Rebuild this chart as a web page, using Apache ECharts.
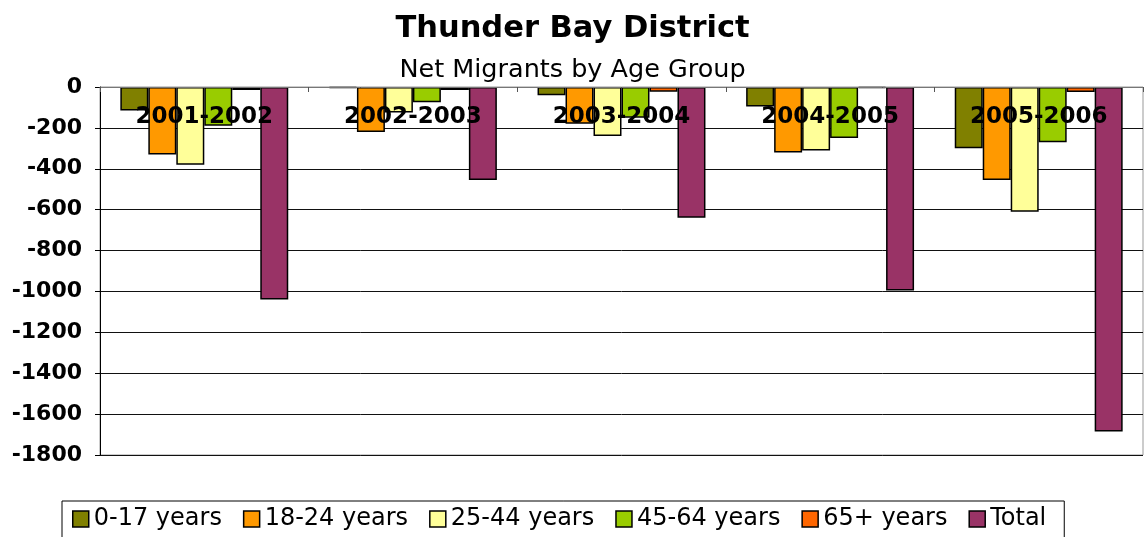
<!DOCTYPE html>
<html>
<head>
<meta charset="utf-8">
<title>Thunder Bay District</title>
<script src="https://cdn.jsdelivr.net/npm/echarts@6/dist/echarts.min.js"></script>
<style>
    html, body { margin: 0; padding: 0; background: #fff; }
    #chart { width: 1145px; height: 537px; }
</style>
</head>
<body>
<div id="chart"></div>
<script>
// years (categories)
var categories = ['2001-2002', '2002-2003', '2003-2004', '2004-2005', '2005-2006'];
// net migrants per age group
var age0to17 = [-115, -5, -40, -95, -300];
var age18to24 = [-330, -220, -180, -320, -455];
var age25to44 = [-380, -125, -240, -310, -610];
var age45to64 = [-190, -75, -150, -250, -270];
var age65plus = [-15, -15, -23, -5, -25];
var total = [-1040, -455, -640, -995, -1685];
// y axis ticks
var yTicks = [0, -200, -400, -600, -800, -1000, -1200, -1400, -1600, -1800];

var seriesNames = ['0-17 years', '18-24 years', '25-44 years', '45-64 years', '65+ years', 'Total'];
var seriesData = [age0to17, age18to24, age25to44, age45to64, age65plus, total];
var seriesColors = ['#808000', '#FF9900', '#FFFF99', '#99CC00', '#FF6600', '#993366'];

var fontName = '"DejaVu Sans", Verdana, sans-serif';

window.onload = function () {
    var myChart = echarts.init(document.getElementById('chart'));

    var series = [];
    for (var i = 0; i < seriesNames.length; i++) {
        series.push({
            name: seriesNames[i],
            type: 'bar',
            data: seriesData[i],
            barGap: '0%',
            barCategoryGap: '19.5%',
            itemStyle: {
                color: seriesColors[i],
                borderColor: '#000',
                borderWidth: 1.5
            }
        });
    }

    var option = {
        animation: false,
        backgroundColor: '#fff',
        title: [
            {
                text: 'Thunder Bay District',
                left: 'center',
                top: 9,
                textStyle: { fontFamily: fontName, fontSize: 30.5, fontWeight: 'bold', color: '#000' }
            },
            {
                text: 'Net Migrants by Age Group',
                left: 'center',
                top: 52,
                textStyle: { fontFamily: fontName, fontSize: 25.5, fontWeight: 'normal', color: '#000' }
            }
        ],
        legend: {
            data: seriesNames,
            left: 62,
            top: 501,
            orient: 'horizontal',
            padding: [6, 18, 8, 10],
            borderColor: '#000',
            borderWidth: 1,
            itemWidth: 16,
            itemHeight: 16,
            itemGap: 21,
            icon: 'rect',
            itemStyle: { borderColor: '#000', borderWidth: 1.5 },
            textStyle: { fontFamily: fontName, fontSize: 24, color: '#000' }
        },
        grid: {
            left: 100,
            right: 2,
            top: 87,
            bottom: 82,
            show: true,
            borderColor: '#999',
            borderWidth: 1
        },
        xAxis: {
            type: 'category',
            data: categories,
            position: 'top',
            z: 10,
            axisLine: { show: true, lineStyle: { color: '#777', width: 1 } },
            axisTick: { show: true, inside: true, length: 5, lineStyle: { color: '#555' } },
            axisLabel: {
                inside: true,
                margin: 19,
                fontFamily: fontName,
                fontSize: 23,
                fontWeight: 'bold',
                color: '#000'
            },
            splitLine: { show: false }
        },
        yAxis: {
            type: 'value',
            min: yTicks[yTicks.length - 1],
            max: yTicks[0],
            interval: 200,
            axisLine: { show: true, lineStyle: { color: '#000', width: 1 } },
            axisTick: { show: true, length: 5, lineStyle: { color: '#000' } },
            axisLabel: {
                margin: 18,
                fontFamily: fontName,
                fontSize: 22,
                fontWeight: 'bold',
                color: '#000',
                formatter: function (v) { return String(v); } // no thousands separator
            },
            splitLine: { show: true, lineStyle: { color: '#111', width: 1 } }
        },
        series: series
    };
    myChart.setOption(option);
};
</script>
</body>
</html>
